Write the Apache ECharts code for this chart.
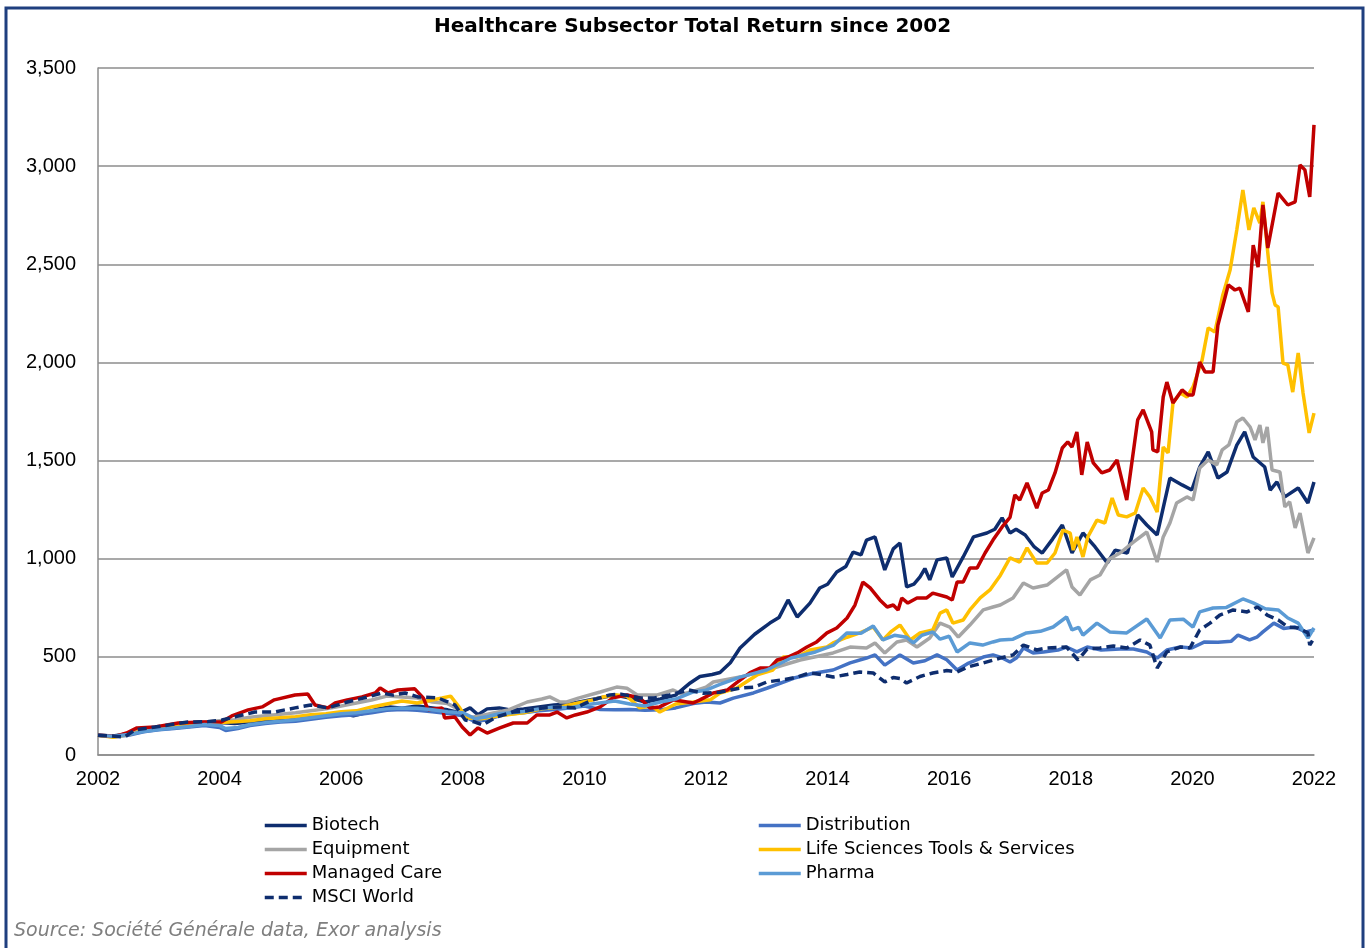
<!DOCTYPE html>
<html>
<head>
<meta charset="utf-8">
<title>Healthcare Subsector Total Return since 2002</title>
<script src="https://cdn.jsdelivr.net/npm/echarts@6/dist/echarts.min.js"></script>
<style>
  html, body { margin: 0; padding: 0; background: #fff; }
  #content { width: 1368px; height: 948px; }
</style>
</head>
<body>
<div id="content"></div>
<script>
// [year, value] pairs, rebased to 100 in 2002
var biotech = [[2002.0,100],[2002.25,97],[2002.5,108],[2002.75,125],[2003.0,135],[2003.25,140],[2003.5,152],[2003.75,160],[2004.0,165],[2004.25,160],[2004.5,168],[2004.75,175],[2005.0,180],[2005.25,188],[2005.5,195],[2005.75,200],[2006.0,212],[2006.2,200],[2006.4,215],[2006.6,235],[2006.8,245],[2007.0,238],[2007.25,250],[2007.5,240],[2007.75,230],[2007.95,215],[2008.12,240],[2008.25,205],[2008.4,235],[2008.6,240],[2008.8,228],[2009.0,235],[2009.25,245],[2009.5,255],[2009.75,260],[2010.0,275],[2010.25,290],[2010.5,305],[2010.75,290],[2011.0,270],[2011.25,285],[2011.5,305],[2011.74,367],[2011.9,400],[2012.1,410],[2012.23,420],[2012.4,470],[2012.56,545],[2012.8,615],[2013.05,672],[2013.2,700],[2013.35,790],[2013.5,703],[2013.71,774],[2013.87,851],[2014.0,870],[2014.15,932],[2014.3,960],[2014.42,1034],[2014.55,1020],[2014.64,1095],[2014.78,1111],[2014.94,943],[2015.08,1050],[2015.19,1080],[2015.3,856],[2015.42,870],[2015.52,907],[2015.6,950],[2015.68,892],[2015.8,994],[2015.96,1004],[2016.05,907],[2016.23,1009],[2016.4,1111],[2016.62,1131],[2016.75,1150],[2016.87,1208],[2017.0,1131],[2017.1,1150],[2017.25,1121],[2017.4,1060],[2017.53,1029],[2017.7,1100],[2017.86,1172],[2018.02,1029],[2018.2,1131],[2018.4,1060],[2018.6,978],[2018.73,1044],[2018.93,1029],[2019.1,1223],[2019.25,1172],[2019.42,1121],[2019.63,1411],[2019.83,1376],[2019.99,1350],[2020.12,1467],[2020.26,1544],[2020.42,1411],[2020.57,1442],[2020.73,1579],[2020.86,1646],[2021.0,1518],[2021.19,1467],[2021.28,1350],[2021.39,1391],[2021.52,1315],[2021.74,1360],[2021.9,1284],[2022.0,1391]];

var distribution = [[2002.0,100],[2002.25,93],[2002.5,100],[2002.75,118],[2003.0,128],[2003.25,135],[2003.5,142],[2003.75,150],[2004.0,140],[2004.1,125],[2004.3,135],[2004.5,150],[2004.75,160],[2005.0,168],[2005.25,172],[2005.5,182],[2005.75,192],[2006.0,200],[2006.25,205],[2006.5,215],[2006.75,228],[2007.0,232],[2007.25,228],[2007.5,220],[2007.75,212],[2008.0,200],[2008.2,170],[2008.4,180],[2008.6,200],[2008.8,210],[2009.0,215],[2009.25,225],[2009.5,232],[2009.75,240],[2010.0,250],[2010.26,232],[2010.5,230],[2010.75,232],[2011.0,228],[2011.25,230],[2011.5,240],[2011.79,262],[2012.0,270],[2012.23,265],[2012.45,290],[2012.78,316],[2013.0,340],[2013.45,392],[2013.75,415],[2014.09,433],[2014.37,469],[2014.64,494],[2014.78,510],[2014.94,458],[2015.19,510],[2015.41,469],[2015.6,480],[2015.8,510],[2015.96,485],[2016.13,433],[2016.3,465],[2016.56,499],[2016.72,510],[2016.84,499],[2017.0,474],[2017.11,495],[2017.22,545],[2017.38,520],[2017.55,525],[2017.79,535],[2017.93,550],[2018.1,525],[2018.27,550],[2018.5,535],[2018.81,540],[2019.03,540],[2019.25,525],[2019.42,494],[2019.58,535],[2019.8,550],[2019.99,545],[2020.2,576],[2020.42,575],[2020.64,580],[2020.75,611],[2020.94,586],[2021.06,600],[2021.16,627],[2021.34,672],[2021.5,645],[2021.69,652],[2021.86,627],[2022.0,637]];

var equipment = [[2002.0,100],[2002.25,95],[2002.5,110],[2002.75,130],[2003.0,142],[2003.25,152],[2003.5,160],[2003.75,168],[2004.0,175],[2004.25,180],[2004.5,192],[2004.75,200],[2005.0,208],[2005.25,215],[2005.5,225],[2005.75,235],[2006.0,250],[2006.25,265],[2006.5,280],[2006.75,300],[2007.0,295],[2007.25,290],[2007.5,270],[2007.75,262],[2007.95,230],[2008.1,190],[2008.3,200],[2008.5,214],[2008.75,230],[2009.06,270],[2009.3,285],[2009.43,296],[2009.6,270],[2009.71,270],[2009.9,290],[2010.26,321],[2010.53,346],[2010.7,340],[2010.87,306],[2011.2,306],[2011.46,331],[2011.6,310],[2011.8,325],[2012.0,345],[2012.12,372],[2012.56,397],[2013.0,433],[2013.55,484],[2014.09,520],[2014.37,550],[2014.64,545],[2014.78,571],[2014.94,520],[2015.14,576],[2015.3,586],[2015.47,550],[2015.68,596],[2015.85,672],[2016.01,652],[2016.15,601],[2016.34,662],[2016.56,739],[2016.72,754],[2016.84,764],[2017.05,800],[2017.22,876],[2017.38,851],[2017.61,866],[2017.93,943],[2018.02,856],[2018.15,815],[2018.32,892],[2018.48,917],[2018.64,1000],[2018.81,1029],[2019.03,1085],[2019.25,1136],[2019.42,983],[2019.52,1111],[2019.63,1182],[2019.74,1284],[2019.91,1315],[2020.01,1299],[2020.12,1462],[2020.26,1503],[2020.4,1478],[2020.49,1554],[2020.6,1580],[2020.73,1697],[2020.83,1717],[2020.95,1671],[2021.03,1605],[2021.11,1681],[2021.16,1590],[2021.23,1671],[2021.31,1452],[2021.44,1442],[2021.52,1264],[2021.6,1290],[2021.69,1157],[2021.77,1233],[2021.9,1029],[2022.0,1106]];

var lifeSciences = [[2002.0,100],[2002.25,90],[2002.5,105],[2002.75,125],[2003.0,135],[2003.25,145],[2003.5,150],[2003.75,160],[2004.0,165],[2004.25,170],[2004.5,175],[2004.75,185],[2005.0,190],[2005.25,195],[2005.5,205],[2005.75,210],[2006.0,220],[2006.25,225],[2006.5,245],[2006.75,260],[2007.0,275],[2007.25,265],[2007.5,280],[2007.66,290],[2007.8,300],[2007.95,240],[2008.05,190],[2008.3,185],[2008.6,200],[2009.0,215],[2009.3,235],[2009.6,245],[2009.9,265],[2010.14,281],[2010.3,295],[2010.53,306],[2010.7,300],[2010.91,240],[2011.1,250],[2011.24,219],[2011.5,260],[2011.79,270],[2012.07,281],[2012.23,316],[2012.5,340],[2012.84,408],[2013.1,433],[2013.27,499],[2013.5,499],[2013.71,535],[2013.99,550],[2014.09,571],[2014.32,600],[2014.53,622],[2014.75,652],[2014.91,586],[2015.05,630],[2015.19,662],[2015.36,586],[2015.52,622],[2015.73,637],[2015.85,723],[2015.96,739],[2016.06,672],[2016.23,688],[2016.34,739],[2016.51,800],[2016.67,841],[2016.84,915],[2017.0,1004],[2017.16,983],[2017.28,1055],[2017.44,978],[2017.61,978],[2017.74,1029],[2017.87,1146],[2017.99,1131],[2018.04,1044],[2018.1,1111],[2018.2,1009],[2018.28,1111],[2018.43,1197],[2018.56,1182],[2018.68,1309],[2018.78,1223],[2018.92,1213],[2019.06,1233],[2019.19,1360],[2019.3,1315],[2019.42,1238],[2019.52,1569],[2019.6,1539],[2019.68,1793],[2019.8,1844],[2019.91,1824],[2020.01,1875],[2020.16,2013],[2020.26,2176],[2020.37,2155],[2020.5,2344],[2020.62,2471],[2020.73,2675],[2020.83,2879],[2020.93,2675],[2021.01,2787],[2021.11,2710],[2021.16,2818],[2021.24,2558],[2021.31,2354],[2021.36,2293],[2021.41,2283],[2021.49,1997],[2021.57,1987],[2021.65,1849],[2021.74,2048],[2021.82,1844],[2021.92,1641],[2022.0,1742]];

var managedCare = [[2002.0,100],[2002.28,95],[2002.47,112],[2002.64,138],[2002.94,143],[2003.32,163],[2003.7,168],[2004.03,168],[2004.2,199],[2004.47,230],[2004.7,245],[2004.9,281],[2005.24,306],[2005.45,311],[2005.57,255],[2005.78,240],[2005.9,265],[2006.1,281],[2006.34,296],[2006.56,316],[2006.64,342],[2006.77,316],[2006.93,331],[2007.21,337],[2007.35,291],[2007.43,230],[2007.66,240],[2007.7,189],[2007.87,194],[2007.99,143],[2008.12,102],[2008.25,138],[2008.4,112],[2008.61,138],[2008.83,163],[2009.06,163],[2009.22,204],[2009.43,204],[2009.55,219],[2009.71,189],[2009.85,204],[2010.04,219],[2010.26,245],[2010.47,291],[2010.7,306],[2010.91,291],[2011.08,240],[2011.24,245],[2011.46,281],[2011.79,265],[2011.9,281],[2012.12,316],[2012.35,331],[2012.5,367],[2012.72,418],[2012.89,443],[2013.05,443],[2013.17,484],[2013.35,499],[2013.5,520],[2013.66,550],[2013.82,576],[2013.99,622],[2014.15,647],[2014.32,698],[2014.45,764],[2014.58,881],[2014.7,851],[2014.86,790],[2014.98,754],[2015.08,764],[2015.16,739],[2015.22,800],[2015.32,774],[2015.47,800],[2015.63,800],[2015.73,825],[2015.96,805],[2016.05,790],[2016.13,881],[2016.23,881],[2016.34,953],[2016.46,953],[2016.59,1029],[2016.72,1095],[2016.87,1162],[2017.0,1210],[2017.08,1325],[2017.16,1299],[2017.28,1386],[2017.44,1258],[2017.53,1335],[2017.63,1350],[2017.74,1437],[2017.86,1564],[2017.95,1595],[2018.02,1569],[2018.1,1646],[2018.18,1427],[2018.27,1595],[2018.37,1488],[2018.51,1437],[2018.64,1452],[2018.76,1503],[2018.92,1299],[2019.1,1707],[2019.19,1758],[2019.33,1646],[2019.35,1554],[2019.43,1544],[2019.52,1824],[2019.58,1900],[2019.68,1793],[2019.83,1860],[2019.93,1834],[2020.01,1834],[2020.12,2002],[2020.21,1951],[2020.34,1951],[2020.42,2191],[2020.59,2395],[2020.7,2369],[2020.78,2379],[2020.92,2257],[2021.0,2598],[2021.08,2486],[2021.16,2802],[2021.24,2583],[2021.41,2863],[2021.57,2802],[2021.69,2818],[2021.77,3006],[2021.85,2981],[2021.93,2843],[2022.0,3210]];

var pharma = [[2002.0,100],[2002.25,95],[2002.5,105],[2002.75,120],[2003.0,130],[2003.25,138],[2003.5,145],[2003.75,155],[2004.0,150],[2004.1,135],[2004.3,140],[2004.5,155],[2004.75,165],[2005.0,172],[2005.25,180],[2005.5,190],[2005.75,200],[2006.0,210],[2006.25,215],[2006.5,225],[2006.75,235],[2007.0,240],[2007.25,238],[2007.5,230],[2007.75,220],[2008.0,215],[2008.2,185],[2008.4,195],[2008.6,210],[2008.8,215],[2009.0,222],[2009.25,235],[2009.5,245],[2009.75,240],[2010.0,255],[2010.25,265],[2010.5,275],[2010.75,260],[2011.0,250],[2011.25,270],[2011.5,285],[2011.79,321],[2012.0,330],[2012.23,360],[2012.56,397],[2013.0,433],[2013.4,494],[2013.8,525],[2014.1,560],[2014.32,622],[2014.55,620],[2014.75,657],[2014.91,586],[2015.1,610],[2015.3,600],[2015.41,571],[2015.55,610],[2015.73,627],[2015.85,590],[2016.0,605],[2016.13,525],[2016.34,571],[2016.55,560],[2016.72,576],[2016.84,586],[2017.05,590],[2017.27,622],[2017.5,630],[2017.71,652],[2017.93,703],[2018.02,637],[2018.13,650],[2018.2,611],[2018.43,672],[2018.64,627],[2018.92,622],[2019.25,693],[2019.47,596],[2019.63,688],[2019.85,692],[2020.01,652],[2020.12,729],[2020.34,749],[2020.56,752],[2020.83,795],[2021.0,775],[2021.2,745],[2021.41,739],[2021.57,698],[2021.74,672],[2021.9,596],[2022.0,647]];

var msciWorld = [[2002.0,100],[2002.2,97],[2002.44,92],[2002.6,127],[2003.05,148],[2003.48,168],[2003.8,170],[2004.04,178],[2004.25,194],[2004.58,219],[2004.9,219],[2005.24,240],[2005.5,255],[2005.78,240],[2006.1,270],[2006.44,296],[2006.67,316],[2006.85,305],[2007.05,316],[2007.26,296],[2007.59,291],[2007.87,255],[2008.04,178],[2008.2,168],[2008.33,153],[2008.55,194],[2008.83,219],[2009.06,225],[2009.32,240],[2009.6,245],[2009.85,240],[2010.14,281],[2010.42,306],[2010.6,310],[2010.91,291],[2011.15,291],[2011.4,306],[2011.72,331],[2011.95,315],[2012.23,320],[2012.56,341],[2012.8,346],[2013.0,372],[2013.3,385],[2013.5,397],[2013.7,418],[2013.9,410],[2014.09,397],[2014.32,410],[2014.53,423],[2014.75,418],[2014.94,372],[2015.08,395],[2015.19,390],[2015.3,367],[2015.52,400],[2015.73,418],[2015.96,430],[2016.13,423],[2016.3,448],[2016.56,469],[2016.84,494],[2017.05,510],[2017.22,560],[2017.44,535],[2017.6,545],[2017.93,550],[2018.12,484],[2018.27,540],[2018.48,545],[2018.7,555],[2018.92,545],[2019.14,586],[2019.3,560],[2019.42,443],[2019.58,525],[2019.8,550],[2019.96,545],[2020.12,637],[2020.29,672],[2020.45,713],[2020.67,739],[2020.9,729],[2021.07,754],[2021.23,713],[2021.41,688],[2021.57,652],[2021.74,647],[2021.9,622],[2021.93,560],[2022.0,596]];

var names = ['Biotech', 'Distribution', 'Equipment', 'Life Sciences Tools & Services', 'Managed Care', 'Pharma', 'MSCI World'];
var colors = ['#0e2d6e', '#4472c4', '#a5a5a5', '#ffc000', '#c00000', '#5b9bd5', '#0e2d6e'];
var seriesData = [biotech, distribution, equipment, lifeSciences, managedCare, pharma, msciWorld];

var font = '"Liberation Sans", Arial, sans-serif';
var wideFont = '"DejaVu Sans", "Liberation Sans", sans-serif';

var myChart = echarts.init(document.getElementById('content'));

var series = names.map(function (name, i) {
    return {
        name: name,
        type: 'line',
        data: seriesData[i],
        symbol: 'none',
        animation: false,
        lineStyle: {
            width: 3.5,
            color: colors[i],
            type: name === 'MSCI World' ? [9, 5] : 'solid'
        },
        itemStyle: { color: colors[i] }
    };
});

// legend: just the line, no symbol in the middle
var legendBase = {
    orient: 'vertical',
    top: 811,
    itemWidth: 42,
    itemHeight: 14,
    itemGap: 5,
    itemStyle: { opacity: 0 },
    lineStyle: { width: 3.5 },
    textStyle: { fontFamily: wideFont, fontSize: 18, color: '#000', lineHeight: 19 }
};

var option = {
    backgroundColor: '#fff',
    title: {
        text: 'Healthcare Subsector Total Return since 2002',
        left: 429,
        top: 12,
        textStyle: { fontFamily: wideFont, fontSize: 20, fontWeight: 'bold', color: '#000' }
    },
    legend: [
        Object.assign({}, legendBase, {
            data: ['Biotech', 'Equipment', 'Managed Care', 'MSCI World'],
            left: 258
        }),
        Object.assign({}, legendBase, {
            data: ['Distribution', 'Life Sciences Tools & Services', 'Pharma'],
            left: 752
        })
    ],
    grid: {
        left: 98,
        right: 54,
        top: 68,
        bottom: 193
    },
    xAxis: {
        type: 'value',
        min: 2002,
        max: 2022,
        interval: 2,
        axisLine: { show: true, lineStyle: { color: '#8c8c8c', width: 1.5 } },
        axisTick: { show: false },
        splitLine: { show: false },
        axisLabel: {
            margin: 14,
            fontFamily: font,
            fontSize: 20,
            color: '#000',
            formatter: function (v) { return String(v); }
        }
    },
    yAxis: {
        type: 'value',
        min: 0,
        max: 3500,
        interval: 500,
        axisLine: { show: true, lineStyle: { color: '#8c8c8c', width: 1.5 } },
        axisTick: { show: false },
        splitLine: { show: true, lineStyle: { color: '#8c8c8c', width: 1.5 } },
        axisLabel: {
            margin: 22,
            fontFamily: font,
            fontSize: 20,
            color: '#000',
            formatter: function (v) { return v.toLocaleString('en-US'); }
        }
    },
    graphic: [
        {
            type: 'rect',
            shape: { x: 6, y: 8, width: 1357, height: 960 },
            style: { fill: 'none', stroke: '#1f3f7f', lineWidth: 3 },
            silent: true
        },
        {
            type: 'text',
            left: 14,
            top: 922,
            style: {
                text: 'Source: Société Générale data, Exor analysis',
                fontFamily: wideFont,
                fontSize: 19,
                fontStyle: 'italic',
                fill: '#7f7f7f'
            }
        }
    ],
    series: series
};

myChart.setOption(option);
</script>
</body>
</html>
